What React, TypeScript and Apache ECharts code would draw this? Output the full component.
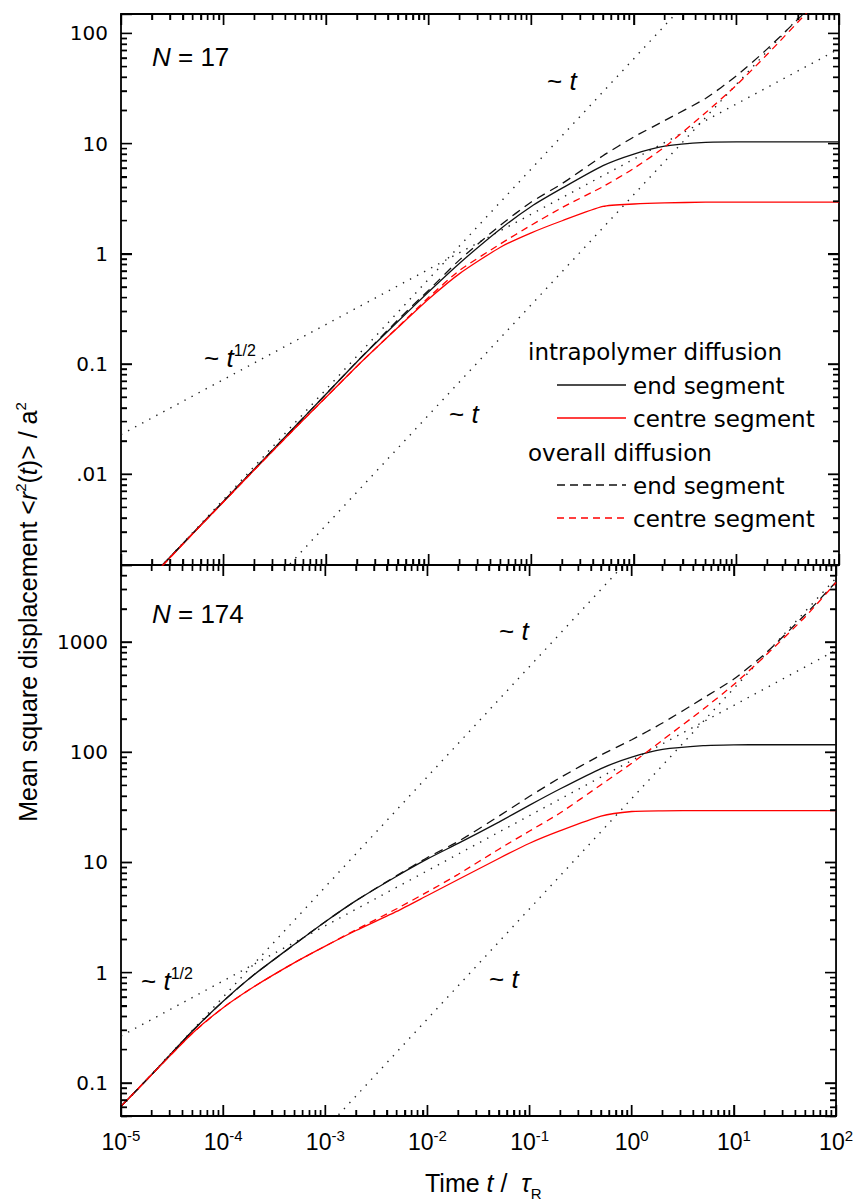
import React, { useEffect, useRef } from 'react';
import * as echarts from 'echarts';

// ---------- data ----------
const TIME = [1e-5, 2e-5, 5e-5, 1e-4, 2e-4, 5e-4, 1e-3, 2e-3, 5e-3, 0.01, 0.02, 0.05, 0.1, 0.2, 0.5, 1, 2, 5, 10, 20, 50, 100];

// N = 17
const N17_INTRA_END = [6.05e-4, 1.19e-3, 2.9e-3, 5.69e-3, 0.01117, 0.0272, 0.0535, 0.105, 0.243, 0.452, 0.822, 1.68, 2.69, 3.94, 6.31, 8.04, 9.48, 10.26, 10.35, 10.35, 10.35, 10.35];
const N17_INTRA_CENTRE = [6.03e-4, 1.175e-3, 2.88e-3, 5.62e-3, 0.01096, 0.0263, 0.0501, 0.0955, 0.214, 0.389, 0.661, 1.148, 1.549, 1.995, 2.69, 2.83, 2.9, 2.94, 2.95, 2.95, 2.95, 2.95];
const N17_OVERALL_END = [6.05e-4, 1.19e-3, 2.9e-3, 5.69e-3, 0.01117, 0.0272, 0.0535, 0.105, 0.251, 0.468, 0.881, 1.82, 2.95, 4.34, 7.76, 11.5, 16.2, 25.7, 41.2, 72.4, 166, 324];
const N17_OVERALL_CENTRE = [6.03e-4, 1.175e-3, 2.88e-3, 5.62e-3, 0.01096, 0.0263, 0.0501, 0.0955, 0.216, 0.403, 0.708, 1.23, 1.82, 2.63, 4.07, 5.96, 9.33, 19.05, 33.9, 64.6, 158.5, 316];

// N = 174
const N174_INTRA_END = [0.0612, 0.119, 0.295, 0.55, 0.955, 1.81, 2.9, 4.5, 7.5, 10.76, 14.89, 23.2, 33.1, 46.6, 71.1, 90.2, 105.9, 114.8, 116.7, 116.9, 116.9, 116.9];
const N174_INTRA_CENTRE = [0.0612, 0.119, 0.282, 0.481, 0.745, 1.233, 1.74, 2.41, 3.59, 5.01, 7.0, 10.86, 14.93, 19.41, 26.3, 28.97, 29.38, 29.5, 29.5, 29.5, 29.5, 29.5];
const N174_OVERALL_END = [0.0612, 0.119, 0.295, 0.55, 0.955, 1.81, 2.9, 4.5, 7.59, 11.09, 15.49, 26.3, 39.8, 58.9, 94.4, 129.7, 184.1, 309, 462, 776, 1778, 3508];
const N174_OVERALL_CENTRE = [0.0612, 0.119, 0.282, 0.481, 0.745, 1.233, 1.74, 2.45, 3.8, 5.4, 7.8, 13.18, 19.28, 28.2, 50.7, 79.4, 128.8, 245.5, 412, 741, 1698, 3467];

// dotted guide lines (power laws), end points [t, value]
const N17_GUIDE_SHORT_T = [[1e-5, 5.9e-4], [100, 5900]];
const N17_GUIDE_LONG_T = [[1e-5, 3.45e-5], [100, 345]];
const N17_GUIDE_HALF = [[1e-5, 0.0229], [100, 72.4]];
const N174_GUIDE_SHORT_T = [[1e-5, 0.06], [1, 6000]];
const N174_GUIDE_LONG_T = [[1e-5, 3.8e-4], [100, 3800]];
const N174_GUIDE_HALF = [[1e-5, 0.266], [100, 843]];

// axes
const X_RANGE = [1e-5, 100];
const N17_Y_RANGE = [0.0015, 150];
const N174_Y_RANGE = [0.05, 5000];
const N17_Y_LABELS = [[0.01, '.01'], [0.1, '0.1'], [1, '1'], [10, '10'], [100, '100']];
const N174_Y_LABELS = [[0.1, '0.1'], [1, '1'], [10, '10'], [100, '100'], [1000, '1000']];

// ---------- layout / style ----------
const GRID_LEFT = 121;
const GRID_W = 718;
const GRID_H = 551;
const TOPS = [14, 565];
const MAJOR_LEN = 11;
const MINOR_LEN = 6;

const FA = 'Liberation Sans, Arial, sans-serif';
const FD = 'DejaVu Sans, sans-serif';
const BLACK = '#111';
const RED = '#ff0000';
const DOT = '#222';

const zip = (xs, ys) => xs.map((x, i) => [x, ys[i]]);

function isPow10(v) {
  const l = Math.log10(v);
  return Math.abs(l - Math.round(l)) < 1e-6;
}

function majorTicks(min, max) {
  const out = [];
  for (let e = Math.ceil(Math.log10(min) - 1e-9); e <= Math.floor(Math.log10(max) + 1e-9); e++) out.push(Math.pow(10, e));
  return out;
}
function minorTicks(min, max) {
  const out = [];
  for (let e = Math.floor(Math.log10(min)); e <= Math.ceil(Math.log10(max)); e++) {
    for (let k = 2; k <= 9; k++) {
      const v = k * Math.pow(10, e);
      if (v > min * 1.0001 && v < max * 0.9999) out.push(v);
    }
  }
  return out;
}

const TICK = { show: true, inside: true, length: MAJOR_LEN, lineStyle: { color: '#000', width: 1.4 } };
const MINOR = { show: true, length: MINOR_LEN, splitNumber: 9, lineStyle: { color: '#000', width: 1.4 } };

// tick marks on all four sides, as a broken line series placed through the panel's log axes
function tickLineSeries(gi, yRange) {
  const [x0, x1] = X_RANGE;
  const [y0, y1] = yRange;
  const pxPerDecX = GRID_W / (Math.log10(x1) - Math.log10(x0));
  const pxPerDecY = GRID_H / (Math.log10(y1) - Math.log10(y0));
  const fx = (len) => Math.pow(10, len / pxPerDecX);
  const fy = (len) => Math.pow(10, len / pxPerDecY);
  const pts = [];
  const seg = (a, b) => {
    pts.push(a, b, ['-', '-']);
  };
  const addX = (v, len) => {
    seg([v, y0], [v, y0 * fy(len)]);
    seg([v, y1], [v, y1 / fy(len)]);
  };
  const addY = (v, len) => {
    seg([x0, v], [x0 * fx(len), v]);
    seg([x1, v], [x1 / fx(len), v]);
  };
  majorTicks(x0, x1).forEach((v) => addX(v, MAJOR_LEN));
  minorTicks(x0, x1).forEach((v) => addX(v, MINOR_LEN));
  majorTicks(y0, y1).forEach((v) => addY(v, MAJOR_LEN));
  minorTicks(y0, y1).forEach((v) => addY(v, MINOR_LEN));
  return {
    type: 'line',
    xAxisIndex: gi * 2,
    yAxisIndex: gi * 2,
    data: pts,
    symbol: 'none',
    showSymbol: false,
    connectNulls: false,
    clip: false,
    silent: true,
    z: 10,
    lineStyle: { color: '#000', width: 1.4, type: 'solid' },
  };
}

function curve(gi, name, data, color, dash) {
  return {
    type: 'line',
    name,
    xAxisIndex: gi * 2,
    yAxisIndex: gi * 2,
    data,
    symbol: 'none',
    showSymbol: false,
    smooth: 0.2,
    clip: true,
    silent: true,
    z: 3,
    lineStyle: { color, width: 1.3, type: dash },
  };
}

function guide(gi, data) {
  return {
    type: 'line',
    xAxisIndex: gi * 2,
    yAxisIndex: gi * 2,
    data,
    symbol: 'none',
    showSymbol: false,
    clip: true,
    silent: true,
    z: 2,
    lineStyle: { color: DOT, width: 1.4, type: [1.4, 6.6] },
  };
}

function yAxisFor(gi, range, labels, position) {
  return {
    type: 'log',
    gridIndex: gi,
    position,
    z: 10,
    min: range[0],
    max: range[1],
    axisLine: { show: false, onZero: false },
    axisTick: { ...TICK },
    minorTick: { ...MINOR },
    splitLine: { show: false },
    axisLabel: {
      show: position === 'left',
      margin: 13,
      color: '#000',
      fontFamily: FD,
      fontSize: 20,
      formatter: (v) => {
        if (!isPow10(v)) return '';
        const hit = labels.find((l) => Math.abs(Math.log10(l[0]) - Math.log10(v)) < 1e-6);
        return hit ? hit[1] : '';
      },
    },
  };
}

function xAxisFor(gi, showLabels, position) {
  return {
    type: 'log',
    gridIndex: gi,
    position,
    z: 10,
    min: X_RANGE[0],
    max: X_RANGE[1],
    axisLine: { show: false, onZero: false },
    axisTick: { ...TICK },
    minorTick: { ...MINOR },
    splitLine: { show: false },
    axisLabel: {
      show: showLabels,
      margin: 12,
      color: '#000',
      fontFamily: FA,
      fontSize: 23,
      lineHeight: 28,
      formatter: (v) => {
        if (!isPow10(v)) return '';
        return '10{s|' + Math.round(Math.log10(v)) + '}';
      },
      rich: {
        s: { fontFamily: FA, fontSize: 15, lineHeight: 15, verticalAlign: 'top', color: '#000' },
      },
    },
  };
}

function txt(x, y, text, rich, extra = {}) {
  return {
    type: 'text',
    x,
    y,
    silent: true,
    z: 20,
    ...extra,
    style: {
      text,
      rich,
      fill: '#000',
      align: extra.align || 'left',
      verticalAlign: 'middle',
      textAlign: extra.align || 'left',
      textVerticalAlign: 'middle',
    },
  };
}

const richA = (size, lh) => ({
  r: { fontFamily: FA, fontSize: size, lineHeight: lh, fill: '#000', color: '#000' },
  i: { fontFamily: FA, fontSize: size, lineHeight: lh, fontStyle: 'italic', fill: '#000', color: '#000' },
});

function legendLine(y, color, dash) {
  return {
    type: 'line',
    silent: true,
    z: 20,
    shape: { x1: 557, y1: y, x2: 626, y2: y },
    style: { stroke: color, lineWidth: 1.4, lineDash: dash },
  };
}

const legendRich = { d: { fontFamily: FD, fontSize: 23, lineHeight: 27, fill: '#000', color: '#000' } };

function buildGraphic() {
  const supRich = (size, lh, supSize, supLh) => ({
    ...richA(size, lh),
    s: { fontFamily: FA, fontSize: supSize, lineHeight: supLh, verticalAlign: 'top', fill: '#000', color: '#000' },
  });
  return [
    txt(152, 57, '{i|N}{r| = 17}', richA(26, 30)),
    txt(152, 614, '{i|N}{r| = 174}', richA(26, 30)),
    txt(547, 81, '{r|~ }{i|t}', richA(26, 30)),
    txt(449, 414, '{r|~ }{i|t}', richA(26, 30)),
    txt(204, 358, '{r|~ }{i|t}{s|1/2}', supRich(26, 32, 16, 18)),
    txt(499, 631, '{r|~ }{i|t}', richA(26, 30)),
    txt(489, 979, '{r|~ }{i|t}', richA(26, 30)),
    txt(141, 981, '{r|~ }{i|t}{s|1/2}', supRich(26, 32, 16, 18)),
    txt(528, 352, '{d|intrapolymer diffusion}', legendRich),
    legendLine(385, BLACK, null),
    txt(633, 386, '{d|end segment}', legendRich),
    legendLine(418, RED, null),
    txt(633, 419, '{d|centre segment}', legendRich),
    txt(528, 453, '{d|overall diffusion}', legendRich),
    legendLine(485, BLACK, [8, 5]),
    txt(633, 486, '{d|end segment}', legendRich),
    legendLine(518, RED, [7, 5]),
    txt(633, 519, '{d|centre segment}', legendRich),
    txt(28, 612, '{r|Mean square displacement <}{i|r}{s|2}{r|(}{i|t}{r|)> / a}{s|2}', supRich(25, 30, 15, 15), {
      rotation: Math.PI / 2,
      align: 'center',
    }),
    txt(425, 1183, '{r|Time }{i|t}{r| /  }{i|τ}{b|R}', {
      ...richA(25, 36),
      b: { fontFamily: FA, fontSize: 15, lineHeight: 15, verticalAlign: 'bottom', fill: '#000', color: '#000' },
    }),
  ];
}

function buildOption() {
  return {
    animation: false,
    grid: TOPS.map((top) => ({
      left: GRID_LEFT,
      top,
      width: GRID_W,
      height: GRID_H,
      show: true,
      z: 0,
      borderColor: '#000',
      borderWidth: 1.8,
      backgroundColor: 'transparent',
    })),
    xAxis: [
      xAxisFor(0, false, 'bottom'),
      xAxisFor(0, false, 'top'),
      xAxisFor(1, true, 'bottom'),
      xAxisFor(1, false, 'top'),
    ],
    yAxis: [
      yAxisFor(0, N17_Y_RANGE, N17_Y_LABELS, 'left'),
      yAxisFor(0, N17_Y_RANGE, N17_Y_LABELS, 'right'),
      yAxisFor(1, N174_Y_RANGE, N174_Y_LABELS, 'left'),
      yAxisFor(1, N174_Y_RANGE, N174_Y_LABELS, 'right'),
    ],
    series: [
      guide(0, N17_GUIDE_SHORT_T),
      guide(0, N17_GUIDE_LONG_T),
      guide(0, N17_GUIDE_HALF),
      guide(1, N174_GUIDE_SHORT_T),
      guide(1, N174_GUIDE_LONG_T),
      guide(1, N174_GUIDE_HALF),
      curve(0, 'intrapolymer end', zip(TIME, N17_INTRA_END), BLACK, 'solid'),
      curve(0, 'intrapolymer centre', zip(TIME, N17_INTRA_CENTRE), RED, 'solid'),
      curve(0, 'overall end', zip(TIME, N17_OVERALL_END), BLACK, [9, 6]),
      curve(0, 'overall centre', zip(TIME, N17_OVERALL_CENTRE), RED, [7, 5]),
      curve(1, 'intrapolymer end', zip(TIME, N174_INTRA_END), BLACK, 'solid'),
      curve(1, 'intrapolymer centre', zip(TIME, N174_INTRA_CENTRE), RED, 'solid'),
      curve(1, 'overall end', zip(TIME, N174_OVERALL_END), BLACK, [9, 6]),
      curve(1, 'overall centre', zip(TIME, N174_OVERALL_CENTRE), RED, [7, 5]),
      tickLineSeries(0, N17_Y_RANGE),
      tickLineSeries(1, N174_Y_RANGE),
    ],
    graphic: buildGraphic(),
  };
}

export default function App() {
  const ref = useRef(null);
  useEffect(() => {
    const chart = echarts.init(ref.current, null, { renderer: 'svg' });
    chart.setOption(buildOption());
    return () => chart.dispose();
  }, []);
  return (
    <div
      ref={ref}
      style={{ position: 'absolute', left: 0, top: 0, width: 856, height: 1202, background: '#fff' }}
    />
  );
}
